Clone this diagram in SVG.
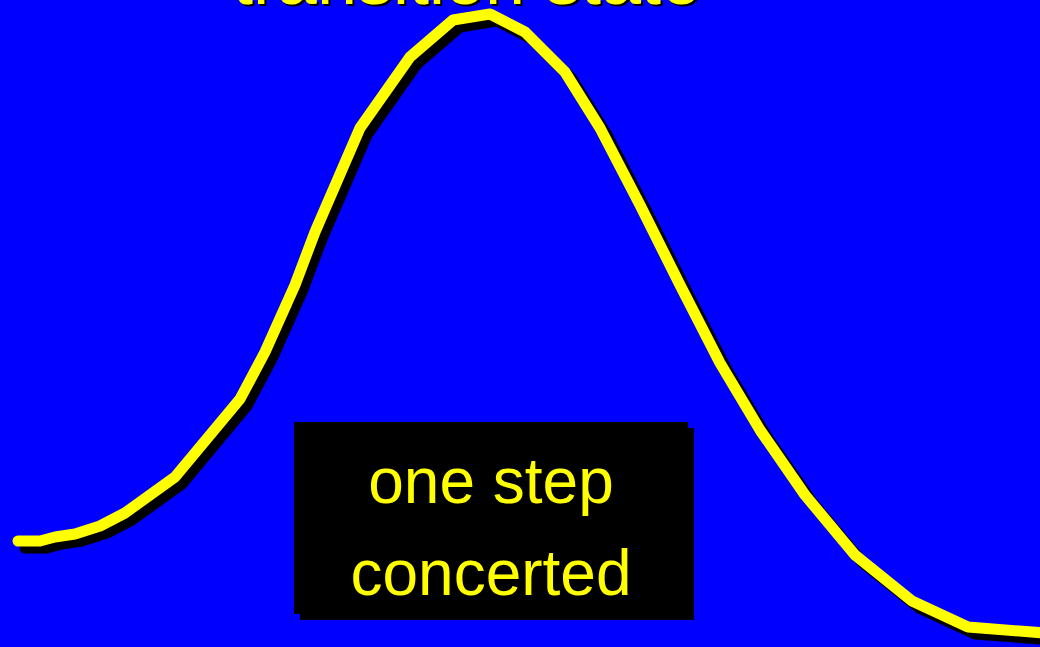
<svg xmlns="http://www.w3.org/2000/svg" width="1040" height="647" viewBox="0 0 1040 647">
<style>
.t{font-family:"Liberation Sans",Arial,sans-serif;text-anchor:middle}
.y{fill:#FFFF00}
.s{fill:#000}
.curve{fill:none;stroke-width:11;stroke-linejoin:round;stroke-linecap:round}
</style>
<rect width="1040" height="647" fill="#0000FF"/>
<g id="title">
<text class="t s" x="469" y="6" font-size="72">transition state</text>
<text class="t y" x="467" y="4" font-size="72">transition state</text>
</g>
<g id="connectors">
<polyline id="curve-shadow" class="curve" stroke="#000" transform="translate(7,7)" points="18,541 40,541 55,537 75,534 100,526 125,513 150,495 175,477 205,441 240,399 265,352 295,285 315,232 360,128 410,57 453,20 490,14 525,32 565,72 600,128 640,205 680,285 720,363 760,430 805,495 855,555 912,601 968,627 1045,633"/>
<polyline id="curve" class="curve" stroke="#FFFF00" points="18,541 40,541 55,537 75,534 100,526 125,513 150,495 175,477 205,441 240,399 265,352 295,285 315,232 360,128 410,57 453,20 490,14 525,32 565,72 600,128 640,205 680,285 720,363 760,430 805,495 855,555 912,601 968,627 1045,633"/>
</g>
<g id="label">
<rect x="300" y="428" width="394" height="192" fill="#000"/>
<rect x="294" y="422" width="394" height="192" fill="#000"/>
<text class="t y" x="491" y="503" font-size="64">one step</text>
<text class="t y" x="491" y="595" font-size="64">concerted</text>
</g>
</svg>
